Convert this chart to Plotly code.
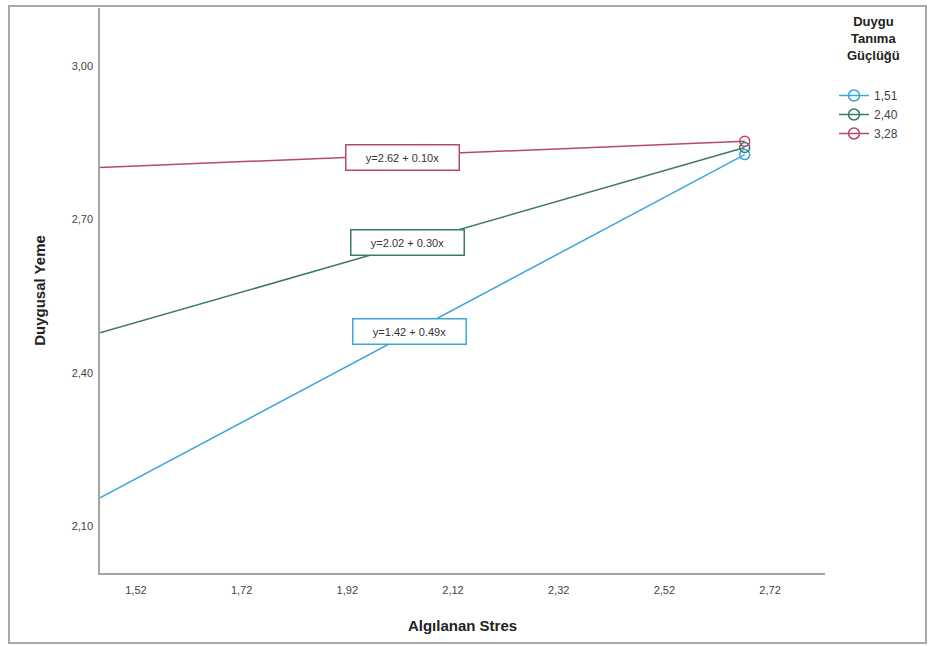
import plotly.graph_objects as go

# ---- data ----
group_labels = ["1,51", "2,40", "3,28"]
x_points = [1.452, 2.672]
y_low = [2.155, 2.827]      # Duygu Tanıma Güçlüğü = 1,51
y_mid = [2.478, 2.841]      # 2,40
y_high = [2.802, 2.853]     # 3,28
equations = ["y=1.42 + 0.49x", "y=2.02 + 0.30x", "y=2.62 + 0.10x"]
eq_x = [2.038, 2.033, 2.025]
eq_y = [2.480, 2.655, 2.821]
x_ticks = [1.52, 1.72, 1.92, 2.12, 2.32, 2.52, 2.72]
x_tick_text = ["1,52", "1,72", "1,92", "2,12", "2,32", "2,52", "2,72"]
y_ticks = [2.10, 2.40, 2.70, 3.00]
y_tick_text = ["2,10", "2,40", "2,70", "3,00"]
legend_title = "Duygu<br>Tanıma<br>Güçlüğü"

colors = ["#3BA6DA", "#3C786C", "#B8476F"]
series = [y_low, y_mid, y_high]

fig = go.Figure()
for ys, col in zip(series, colors):
    fig.add_trace(go.Scatter(x=x_points, y=ys, mode="lines",
                             line=dict(color=col, width=1.5),
                             showlegend=False, hoverinfo="skip"))
for ys, col in zip(series, colors):
    fig.add_trace(go.Scatter(x=[x_points[-1]], y=[ys[-1]], mode="markers",
                             marker=dict(symbol="circle-open", size=10, color=col,
                                         line=dict(color=col, width=1.5)),
                             showlegend=False))
for lab, col in zip(group_labels, colors):
    fig.add_trace(go.Scatter(x=[None], y=[None], mode="lines+markers", name=lab,
                             line=dict(color=col, width=1.5),
                             marker=dict(symbol="circle-open", size=11, color=col,
                                         line=dict(color=col, width=1.5))))

for txt, ex, ey, col in zip(equations, eq_x, eq_y, colors):
    fig.add_annotation(x=ex, y=ey, xref="x", yref="y", text=txt, showarrow=False,
                       font=dict(family="Liberation Sans, Arial", size=11, color="#333333"),
                       bgcolor="white", bordercolor=col, borderwidth=1.5,
                       borderpad=4, width=104, height=16)


def px2paper_x(px):
    return (px - 100) / 725.0


def px2paper_y(py):
    return (573 - py) / 565.0


# legend title (centered block)
fig.add_annotation(x=px2paper_x(873), y=px2paper_y(12), xref="paper", yref="paper",
                   xanchor="center", yanchor="top", showarrow=False, align="center",
                   text="<b>" + legend_title + "</b>",
                   font=dict(family="Liberation Sans, Arial", size=13, color="#222222"))

# outer frame
fig.add_shape(type="rect", xref="paper", yref="paper",
              x0=px2paper_x(9), x1=px2paper_x(926),
              y0=px2paper_y(643), y1=px2paper_y(6),
              line=dict(color="#A8A8A8", width=2), fillcolor="rgba(0,0,0,0)")

fig.update_layout(
    width=928, height=646,
    margin=dict(l=100, r=103, t=8, b=73),
    paper_bgcolor="white", plot_bgcolor="white",
    font=dict(family="Liberation Sans, Arial", color="#333333"),
    legend=dict(
        x=px2paper_x(834), y=px2paper_y(81), xanchor="left", yanchor="top",
        font=dict(size=12, color="#444444"),
        bgcolor="rgba(0,0,0,0)", itemwidth=30,
    ),
    xaxis=dict(range=[1.452, 2.824], tickvals=x_ticks, ticktext=x_tick_text,
               showgrid=False, zeroline=False, showline=True,
               linecolor="#A6A6A6", linewidth=1.5, ticks="",
               ticklabelstandoff=6,
               tickfont=dict(size=11, color="#444444"),
               title=dict(text="<b>Algılanan Stres</b>", standoff=26,
                          font=dict(size=15, color="#222222"))),
    yaxis=dict(range=[2.008, 3.114], tickvals=y_ticks, ticktext=y_tick_text,
               showgrid=False, zeroline=False, showline=True,
               linecolor="#A6A6A6", linewidth=1.5, ticks="",
               ticklabelstandoff=3,
               tickfont=dict(size=11, color="#444444"),
               title=dict(text="<b>Duygusal Yeme</b>", standoff=22,
                          font=dict(size=15, color="#222222"))),
)

fig.write_html("out.html", config={"displayModeBar": False},
               post_script="document.body.style.margin='0';document.body.style.overflow='hidden';")
